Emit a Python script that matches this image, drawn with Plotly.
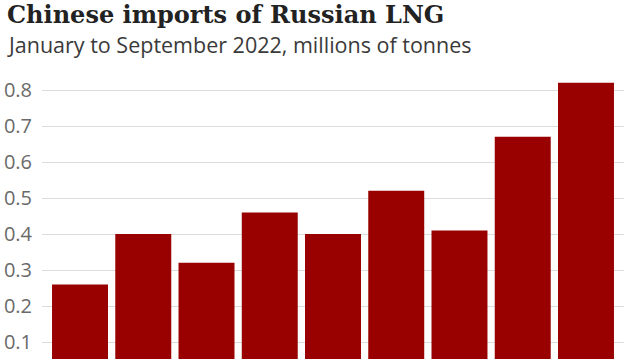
import plotly.graph_objects as go

months = ["Jan", "Feb", "Mar", "Apr", "May", "Jun", "Jul", "Aug", "Sep"]
imports = [0.26, 0.40, 0.32, 0.46, 0.40, 0.52, 0.41, 0.67, 0.82]
tick_vals = [0.1, 0.2, 0.3, 0.4, 0.5, 0.6, 0.7, 0.8]
tick_text = ["0.1", "0.2", "0.3", "0.4", "0.5", "0.6", "0.7", "0.8"]

W, H = 640, 359
L, R, T, B = 42, 16, 70, 0
plot_h = H - T - B
plot_w = W - L - R

fig = go.Figure(go.Bar(
    x=list(range(len(months))),
    y=imports,
    width=0.885,
    marker=dict(color="#990000", line=dict(width=0)),
    hovertext=months,
))

def px_to_paper_x(px):
    return (px - L) / plot_w

def px_to_paper_y(py):
    return 1 + (T - py) / plot_h

fig.update_layout(
    width=W, height=H,
    margin=dict(l=L, r=R, t=T, b=B, pad=0, autoexpand=False),
    paper_bgcolor="white", plot_bgcolor="white",
    showlegend=False,
    xaxis=dict(range=[-0.601, 8.601], showticklabels=False, showgrid=False,
               zeroline=False, fixedrange=True, automargin=False),
    yaxis=dict(range=[0.0528, 0.8556], tickvals=tick_vals, ticktext=tick_text,
               showgrid=True, gridcolor="#dcdcdc", gridwidth=1, zeroline=False,
               tickfont=dict(family="Open Sans", size=20, color="#6a6a6a"),
               ticks="", ticklabelstandoff=9, automargin=False),
    annotations=[
        dict(text="<b>Chinese imports of Russian LNG</b>", xref="paper", yref="paper",
             x=px_to_paper_x(5), y=px_to_paper_y(-2), xanchor="left", yanchor="top",
             showarrow=False, font=dict(family="DejaVu Serif", size=24, color="#222222")),
        dict(text="January to September 2022, millions of tonnes", xref="paper", yref="paper",
             x=px_to_paper_x(5), y=px_to_paper_y(28), xanchor="left", yanchor="top",
             showarrow=False, font=dict(family="Open Sans", size=21.5, color="#3a3a3a")),
    ],
)

fig.write_html("out.html",
               config={"displayModeBar": False},
               post_script="document.body.style.margin='0';document.body.style.overflow='hidden';")
